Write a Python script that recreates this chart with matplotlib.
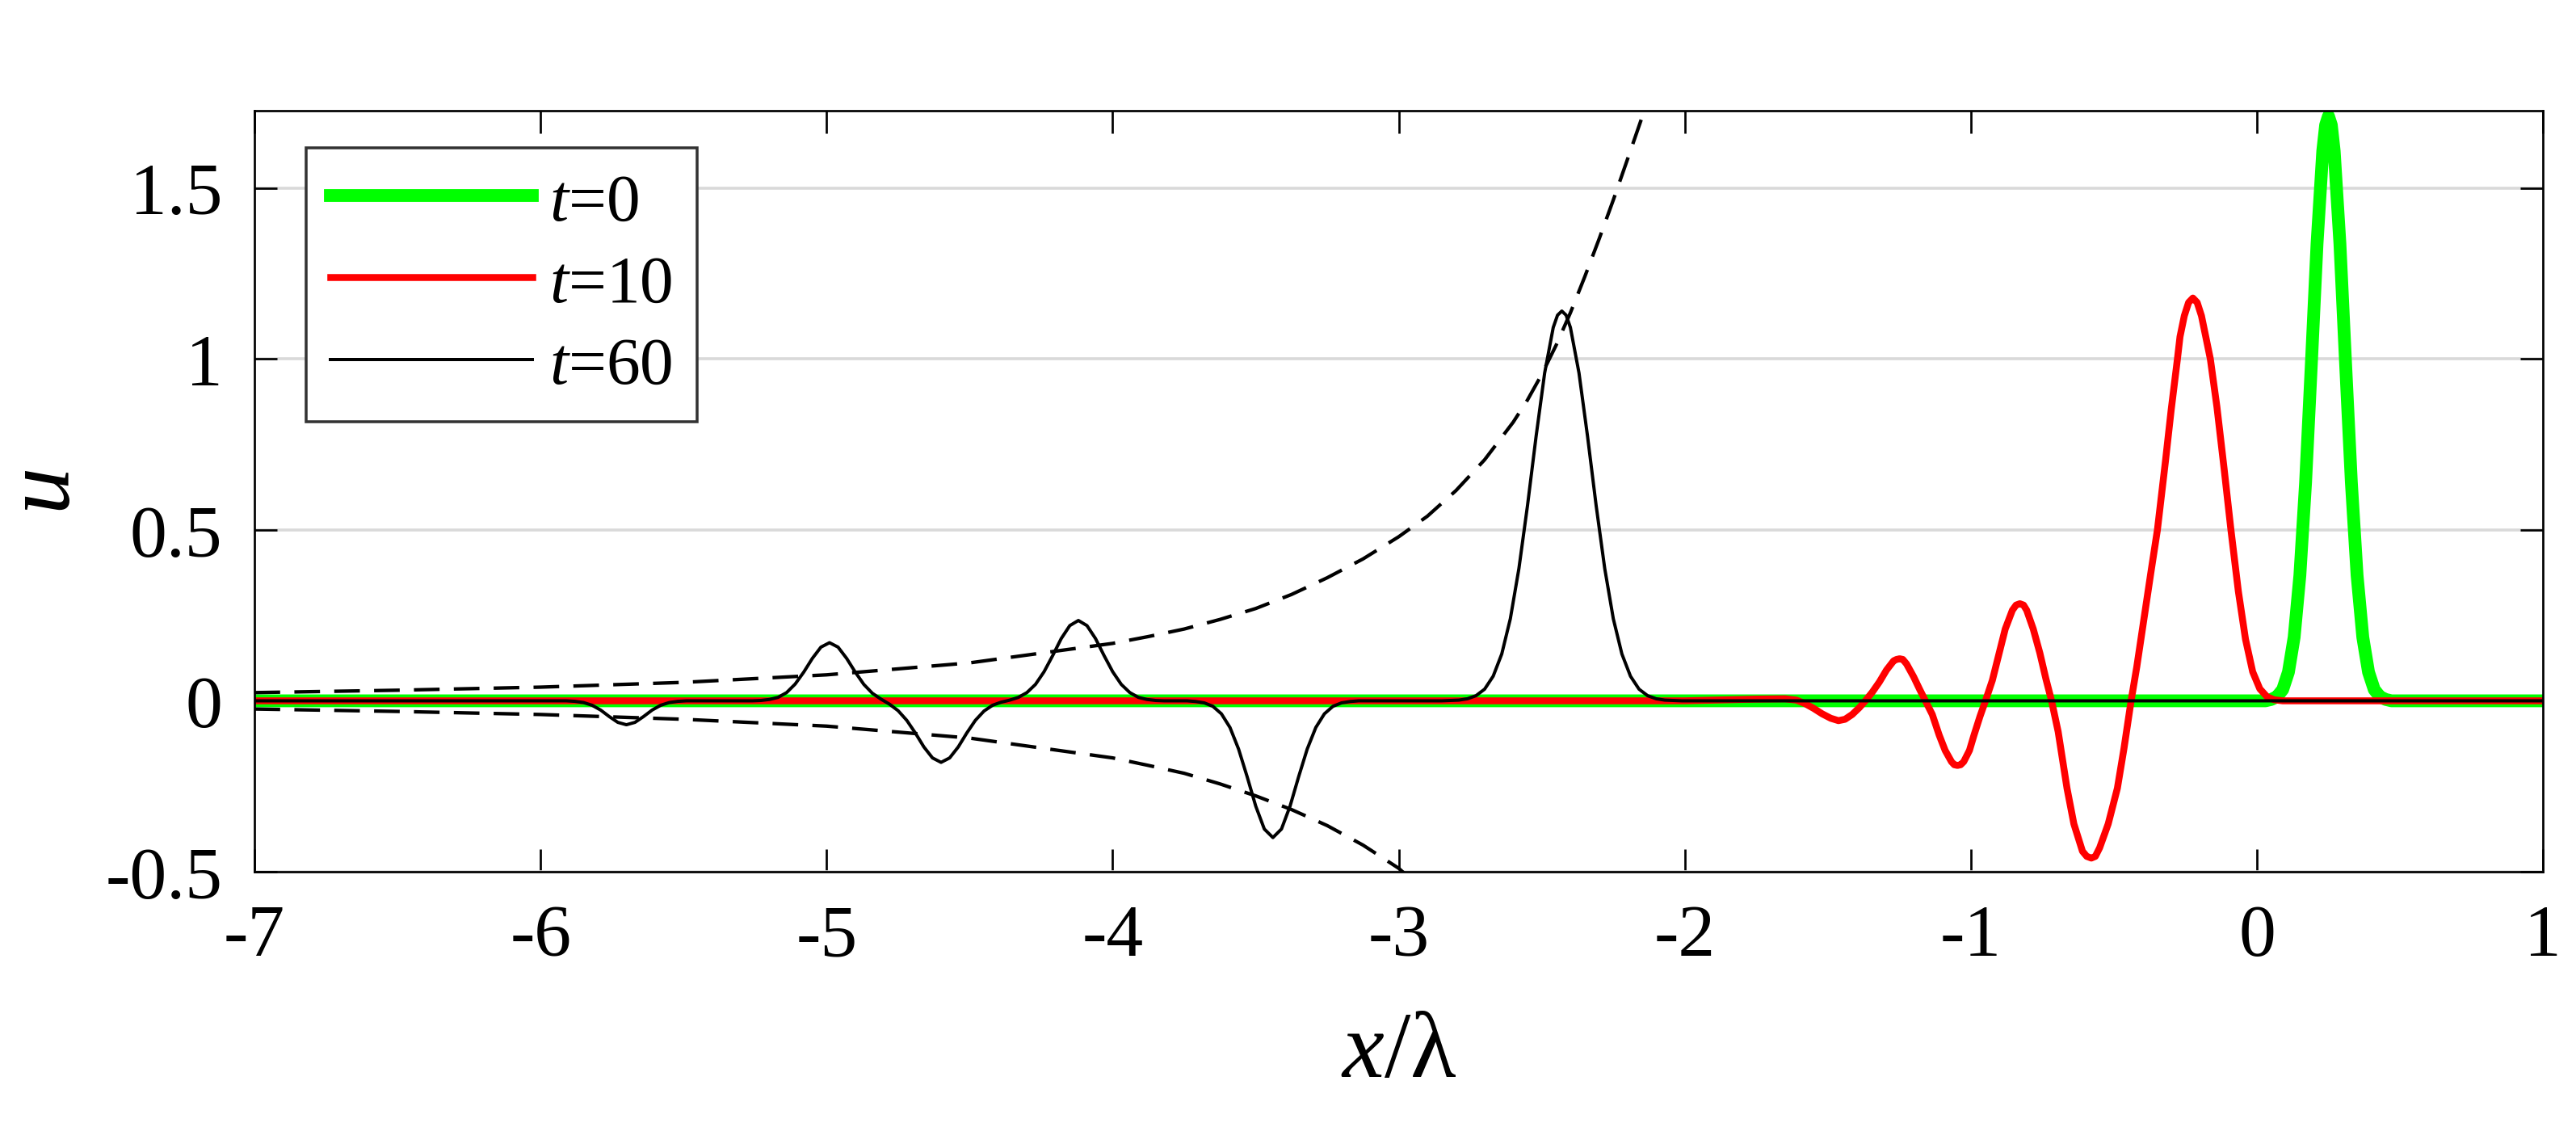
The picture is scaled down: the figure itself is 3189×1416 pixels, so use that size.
import matplotlib
matplotlib.use("Agg")
import matplotlib.pyplot as plt

# ---- data ----
x_ticks = [-7, -6, -5, -4, -3, -2, -1, 0, 1]
x_tick_labels = ["-7", "-6", "-5", "-4", "-3", "-2", "-1", "0", "1"]
y_ticks = [-0.5, 0, 0.5, 1, 1.5]
y_tick_labels = ["-0.5", "0", "0.5", "1", "1.5"]

# t = 0 : single pulse near x = 0.25
green_x = [-7.0, 0.03, 0.05, 0.07, 0.09, 0.11, 0.13, 0.15, 0.17, 0.19, 0.21, 0.23, 0.24,
           0.25, 0.26, 0.27, 0.29, 0.31, 0.33, 0.35, 0.37, 0.39, 0.41, 0.43, 0.45, 0.47, 1.0]
green_y = [0.0, 0.0, 0.004, 0.012, 0.033, 0.084, 0.186, 0.367, 0.639, 0.983, 1.337, 1.608, 1.684,
           1.71, 1.684, 1.608, 1.337, 0.983, 0.639, 0.367, 0.186, 0.084, 0.033, 0.012, 0.004, 0.0, 0.0]

# t = 10 : oscillating packet
red_x = [-7.0, -2.0, -1.75, -1.65, -1.61, -1.58, -1.55, -1.52, -1.49, -1.463, -1.44, -1.415, -1.39,
         -1.369, -1.345, -1.32, -1.295, -1.27, -1.26, -1.249, -1.238, -1.225, -1.20, -1.18, -1.159,
         -1.135, -1.111, -1.09, -1.068, -1.058, -1.047, -1.036, -1.025, -1.005, -0.989, -0.968, -0.949,
         -0.925, -0.901, -0.88, -0.855, -0.842, -0.829, -0.816, -0.805, -0.782, -0.759, -0.738, -0.718,
         -0.695, -0.664, -0.64, -0.61, -0.595, -0.579, -0.565, -0.55, -0.52, -0.488, -0.465, -0.44,
         -0.42, -0.395, -0.37, -0.348, -0.32, -0.30, -0.278, -0.269, -0.254, -0.239, -0.224, -0.209,
         -0.194, -0.179, -0.163, -0.14, -0.115, -0.091, -0.065, -0.04, -0.015, 0.01, 0.035, 0.06,
         0.09, 1.0]
red_y = [0.0, 0.0, 0.005, 0.006, 0.002, -0.008, -0.022, -0.038, -0.051, -0.058, -0.054, -0.040, -0.020,
         0.0, 0.025, 0.055, 0.09, 0.117, 0.121, 0.123, 0.121, 0.108, 0.07, 0.035, 0.0,
         -0.04, -0.10, -0.145, -0.178, -0.187, -0.189, -0.187, -0.178, -0.145, -0.10, -0.045, 0.0,
         0.06, 0.14, 0.21, 0.265, 0.280, 0.284, 0.280, 0.265, 0.21, 0.14, 0.065, 0.0,
         -0.09, -0.256, -0.36, -0.44, -0.455, -0.46, -0.455, -0.43, -0.36, -0.256, -0.14, 0.0,
         0.10, 0.24, 0.38, 0.50, 0.70, 0.85, 1.0, 1.065, 1.126, 1.165, 1.178, 1.165,
         1.126, 1.065, 1.0, 0.86, 0.68, 0.50, 0.32, 0.18, 0.085, 0.035, 0.012, 0.003,
         0.0, 0.0]

# t = 60 : train of pulses
black_x = [-7.0, -5.91, -5.88, -5.85, -5.82, -5.79, -5.76, -5.73, -5.70, -5.67, -5.64, -5.61,
           -5.58, -5.55, -5.52, -5.49, -5.26,
           -5.23, -5.20, -5.17, -5.14, -5.11, -5.08, -5.05, -5.02, -4.99, -4.96, -4.93, -4.90,
           -4.87, -4.84, -4.81, -4.78, -4.75, -4.72, -4.69, -4.66, -4.63, -4.60, -4.57, -4.54,
           -4.51, -4.48, -4.45, -4.42, -4.39, -4.36, -4.33, -4.30, -4.27, -4.24, -4.21, -4.18,
           -4.15, -4.12, -4.09, -4.06, -4.03, -4.00, -3.97, -3.94, -3.91, -3.88, -3.85, -3.82,
           -3.74, -3.71, -3.68, -3.65, -3.62, -3.59, -3.56, -3.53, -3.50, -3.47, -3.44, -3.41,
           -3.38, -3.35, -3.32, -3.29, -3.26, -3.23, -3.20, -3.17, -3.14, -2.85,
           -2.82, -2.79, -2.76, -2.73, -2.70, -2.67, -2.64, -2.61, -2.58, -2.55, -2.52, -2.49,
           -2.46, -2.445, -2.43, -2.415, -2.40, -2.37, -2.34, -2.31, -2.28, -2.25, -2.22, -2.19,
           -2.16, -2.13, -2.10, -2.07, -2.04, -2.01, 1.0]
black_y = [0.0, 0.0, -0.0015, -0.005, -0.013, -0.027, -0.046, -0.063, -0.070, -0.063, -0.046, -0.027,
           -0.013, -0.005, -0.0015, 0.0, 0.0,
           0.001, 0.004, 0.010, 0.024, 0.049, 0.084, 0.124, 0.157, 0.170, 0.157, 0.124, 0.084,
           0.048, 0.022, 0.005, -0.010, -0.029, -0.057, -0.094, -0.135, -0.167, -0.180, -0.167, -0.135,
           -0.094, -0.057, -0.030, -0.013, -0.004, 0.002, 0.010, 0.024, 0.048, 0.085, 0.132, 0.182,
           0.220, 0.235, 0.220, 0.182, 0.132, 0.085, 0.048, 0.024, 0.010, 0.004, 0.001, 0.0,
           0.0, -0.002, -0.006, -0.016, -0.038, -0.078, -0.141, -0.222, -0.308, -0.375, -0.400, -0.375,
           -0.308, -0.222, -0.141, -0.078, -0.038, -0.016, -0.006, -0.002, 0.0, 0.0,
           0.001, 0.002, 0.006, 0.015, 0.034, 0.072, 0.137, 0.240, 0.387, 0.571, 0.773, 0.959,
           1.092, 1.128, 1.140, 1.128, 1.092, 0.959, 0.773, 0.571, 0.387, 0.240, 0.137, 0.072,
           0.034, 0.015, 0.006, 0.002, 0.001, 0.0, 0.0]

# dashed envelopes
env_up_x = [-7.0, -6.5, -6.0, -5.5, -5.0, -4.5, -4.0, -3.875, -3.75, -3.625, -3.5, -3.375,
            -3.25, -3.125, -3.0, -2.9, -2.8, -2.7, -2.6, -2.55, -2.5, -2.45, -2.4, -2.35,
            -2.3, -2.25, -2.2, -2.14, -2.11]
env_up_y = [0.024, 0.031, 0.040, 0.054, 0.076, 0.111, 0.168, 0.188, 0.210, 0.238, 0.270, 0.311,
            0.360, 0.415, 0.480, 0.540, 0.615, 0.705, 0.815, 0.880, 0.955, 1.040, 1.135, 1.240,
            1.350, 1.465, 1.585, 1.730, 1.81]
env_lo_x = [-7.0, -6.5, -6.0, -5.5, -5.0, -4.5, -4.0, -3.875, -3.75, -3.625, -3.5, -3.375,
            -3.25, -3.125, -3.0, -2.96]
env_lo_y = [-0.024, -0.031, -0.040, -0.054, -0.074, -0.109, -0.167, -0.189, -0.212, -0.243,
            -0.278, -0.318, -0.365, -0.422, -0.490, -0.52]

plt.rcParams.update({
    "font.family": "Liberation Serif",
    "mathtext.fontset": "custom",
    "mathtext.rm": "Liberation Serif",
    "mathtext.it": "Liberation Serif:italic",
    "axes.unicode_minus": False,
})

fig = plt.figure(figsize=(10.63, 4.7233), dpi=300)
ax = fig.add_axes([0.0988, 0.2378, 0.8884, 0.6648])

ax.plot(green_x, green_y, color="#00ff00", lw=3.8, label=r"$t$=0")
ax.plot(red_x, red_y, color="#ff0000", lw=2.05, label=r"$t$=10")
ax.plot(black_x, black_y, color="black", lw=0.96, label=r"$t$=60")
ax.plot(env_up_x, env_up_y, color="black", lw=1.03, linestyle="--", dashes=(7.4, 4.1))
ax.plot(env_lo_x, env_lo_y, color="black", lw=1.03, linestyle="--", dashes=(7.4, 4.1))

ax.set_xlim(-7, 1)
ax.set_ylim(-0.5, 1.726)
ax.set_xticks(x_ticks)
ax.set_xticklabels(x_tick_labels)
ax.set_yticks(y_ticks)
ax.set_yticklabels(y_tick_labels)
ax.tick_params(direction="in", top=True, right=True, length=6.8, width=0.65,
               labelsize=22, pad=9.5)
for sp in ax.spines.values():
    sp.set_linewidth(0.65)
ax.grid(axis="y", color="#d9d9d9", lw=0.86)
ax.set_axisbelow(True)

ax.set_xlabel(r"$x/\mathrm{\lambda}$", fontsize=28)
ax.xaxis.label.set_va("baseline")
ax.xaxis.set_label_coords(0.5, -0.2686)
ax.set_ylabel(r"$u$", fontsize=28)
ax.yaxis.label.set_va("baseline")
ax.yaxis.set_label_coords(-0.081, 0.5)

leg = ax.legend(loc="upper left", bbox_to_anchor=(0.0225, 0.9512), borderaxespad=0,
                fontsize=20, handlelength=3.0, handletextpad=0.26, borderpad=0.36,
                labelspacing=0.30, fancybox=False, framealpha=1, edgecolor="#333333")
leg.get_frame().set_linewidth(0.85)

fig.savefig("out.png", dpi=300)
